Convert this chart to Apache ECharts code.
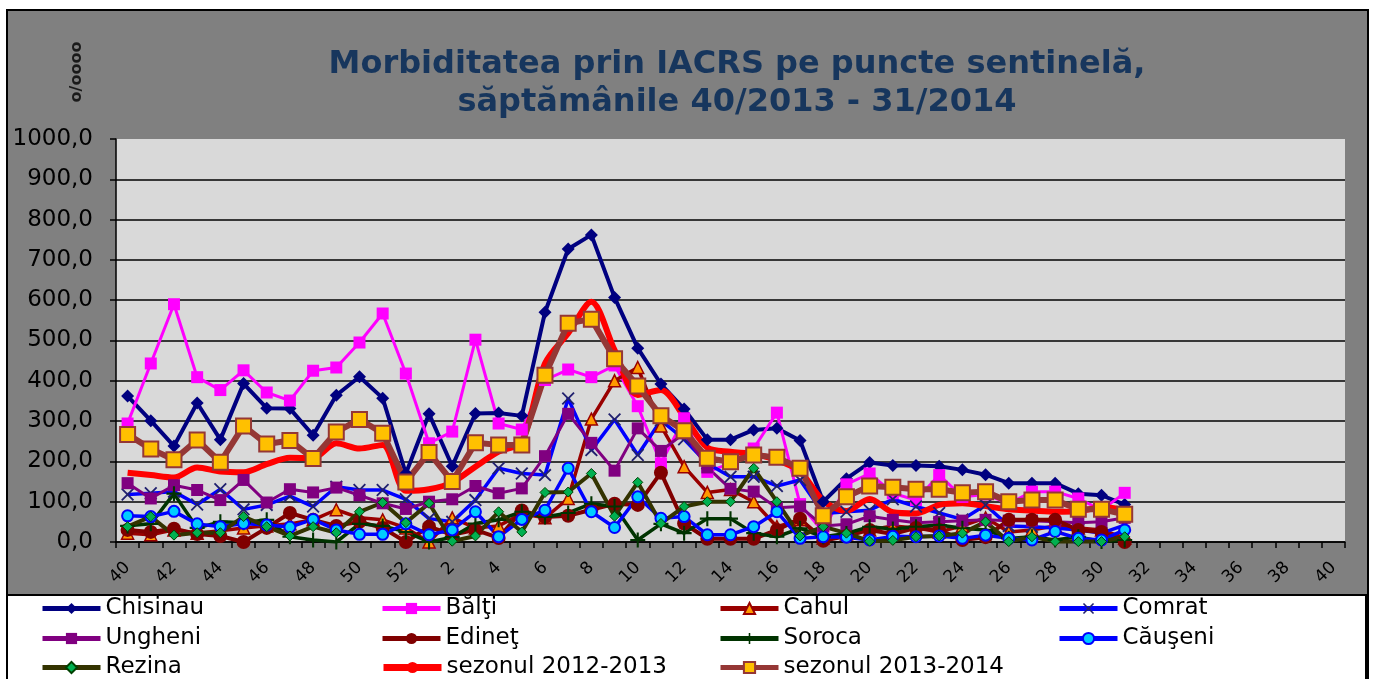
<!DOCTYPE html>
<html><head><meta charset="utf-8">
<script src="https://cdn.jsdelivr.net/npm/echarts@6/dist/echarts.min.js"></script>
<style>html,body{margin:0;padding:0;background:#fff}#c{width:1379px;height:679px}</style>
</head><body><div id="c"></div>
<script>
const weeks = ['40','41','42','43','44','45','46','47','48','49','50','51','52',
  '1','2','3','4','5','6','7','8','9','10','11','12','13','14','15','16','17','18','19','20',
  '21','22','23','24','25','26','27','28','29','30','31','32','33','34','35','36','37','38','39','40'];
const yTicks = [0,100,200,300,400,500,600,700,800,900,1000];

const chisinau = [362,301,238,345,254,393,332,331,265,364,410,357,170,318,188,319,320,313,570,727,762,607,481,392,330,254,254,278,282,252,100,157,197,190,190,188,179,167,146,146,146,120,116,93];
const balti    = [294,443,590,409,377,426,371,351,425,433,495,567,418,245,274,502,294,279,402,428,409,438,337,195,307,174,195,232,321,94,25,143,170,121,104,166,112,118,95,125,125,108,79,122];
const cahul    = [22,18,30,22,28,35,40,45,55,80,60,55,35,0,60,35,40,70,60,108,305,400,433,288,187,123,130,100,38,55,10,20,30,40,35,25,40,60,25,30,40,35,30,10];
const comrat   = [118,121,125,93,131,81,92,114,88,137,129,129,106,58,50,104,183,170,166,356,228,304,216,302,255,195,162,162,139,154,71,75,79,106,88,72,56,92,40,38,35,30,22,42];
const ungheni  = [146,108,141,129,104,154,98,131,123,135,116,96,82,100,106,139,121,133,213,318,246,177,282,226,270,185,132,125,85,88,40,44,64,55,48,50,53,55,53,53,50,48,50,60];
const edinet   = [30,25,33,20,15,0,35,72,55,40,50,35,0,38,18,30,10,78,62,65,80,95,92,172,46,8,8,8,30,58,3,15,30,20,35,30,5,12,55,55,55,30,25,0];
const soroca   = [40,45,120,35,50,48,55,13,5,0,45,40,25,0,12,46,55,75,62,72,95,88,5,45,22,58,58,22,13,34,13,21,38,32,38,42,34,30,9,13,5,13,1,5];
const causeni  = [65,63,76,45,38,46,42,37,56,30,19,19,45,18,30,75,13,56,79,183,75,36,112,59,63,18,18,38,75,9,13,12,5,14,13,15,9,17,9,5,26,9,5,30];
const rezina   = [38,63,17,23,23,63,38,15,38,23,75,98,48,96,2,15,75,25,123,124,170,64,148,46,88,100,100,183,100,15,38,22,2,4,13,15,22,50,1,13,1,1,1,13];
const sez1213  = [172,166,160,185,175,173,193,209,208,245,232,241,127,131,148,187,224,249,443,518,596,476,365,377,311,234,224,218,203,175,102,77,107,74,71,92,96,89,81,78,75,76,86,80];
const sez1314  = [267,231,204,253,198,288,243,252,207,273,304,270,149,222,150,246,241,241,414,543,553,455,387,313,276,208,199,216,210,183,65,112,139,136,131,131,122,125,100,104,104,81,81,69];

const FONT = 'DejaVu Sans';
const X_PATH = 'path://M1,0 L5,4 L9,0 L10,1 L6,5 L10,9 L9,10 L5,6 L1,10 L0,9 L4,5 L0,1 Z';
const PLUS_PATH = 'path://M4.3,0 L5.7,0 L5.7,4.3 L10,4.3 L10,5.7 L5.7,5.7 L5.7,10 L4.3,10 L4.3,5.7 L0,5.7 L0,4.3 L4.3,4.3 Z';

function line(name, data, color, width, symbol, size, fill, border, bw, extra) {
  return Object.assign({
    name: name, type: 'line', data: data,
    symbol: symbol, symbolSize: size, showSymbol: symbol !== 'none',
    lineStyle: {color: color, width: width},
    itemStyle: {color: fill, borderColor: border, borderWidth: bw},
    emphasis: {disabled: true},
    animation: false
  }, extra || {});
}

const series = [
  line('Chisinau', chisinau, '#000080', 4, 'diamond', 13, '#000080', '#000080', 0),
  line('Bălţi', balti, '#FF00FF', 3, 'rect', 12, '#FF00FF', '#FF00FF', 0),
  line('Cahul', cahul, '#990000', 3.5, 'triangle', 12, '#FF9900', '#990000', 1.5),
  line('Comrat', comrat, '#0000FF', 3.5, X_PATH, 13, '#20206E', '#20206E', 0),
  line('Ungheni', ungheni, '#800080', 3, 'rect', 12, '#800080', '#800080', 0),
  line('Edineţ', edinet, '#800000', 4, 'circle', 14, '#800000', '#800000', 0),
  line('Soroca', soroca, '#003300', 3.5, PLUS_PATH, 15, '#003300', '#003300', 0),
  line('Căuşeni', causeni, '#0000FF', 3.5, 'circle', 11, '#00CCFF', '#0000FF', 2),
  line('Rezina', rezina, '#333300', 4, 'diamond', 10, '#00B050', '#004000', 1),
  line('sezonul 2012-2013', sez1213, '#FF0000', 6, 'none', 0, '#FF0000', '#FF0000', 0, {smooth: 0.3}),
  line('sezonul 2013-2014', sez1314, '#953735', 6, 'rect', 15, '#FFC000', '#953735', 2)
];

const legendCols = [40, 380, 718, 1057];
const legendRows = [597, 627, 656];
const legends = series.map(function (s, i) {
  return {
    data: [s.name], left: legendCols[i % 4], top: legendRows[Math.floor(i / 4)],
    padding: 0, itemWidth: 58, itemHeight: 14, itemGap: 0,
    lineStyle: {width: i === 9 ? 7 : 5},
    textStyle: {fontFamily: FONT, fontSize: 23, color: '#000'},
    selectedMode: false
  };
});

const chart = echarts.init(document.getElementById('c'));
chart.setOption({
  backgroundColor: '#FFFFFF',
  animation: false,
  title: {
    text: 'Morbiditatea prin IACRS pe puncte sentinelă,\nsăptămânile 40/2013 - 31/2014',
    left: 737, top: 46, padding: 0, textAlign: 'center',
    textStyle: {fontFamily: FONT, fontWeight: 'bold', fontSize: 32, lineHeight: 38, color: '#17365D'}
  },
  graphic: [
    {type: 'rect', z: -20, shape: {x: 7, y: 10, width: 1361, height: 680}, style: {fill: '#808080', stroke: '#000', lineWidth: 2}},
    {type: 'rect', z: -10, shape: {x: 7, y: 595, width: 1359, height: 95}, style: {fill: '#FFFFFF', stroke: '#000', lineWidth: 2}},
    {type: 'text', z: 5, x: 77, y: 72, rotation: Math.PI / 2,
     style: {text: 'o/oooo', font: 'bold 16px "DejaVu Sans"', fill: '#1a1a1a', align: 'center', verticalAlign: 'middle'}}
  ],
  legend: legends,
  grid: {left: 116, top: 139, width: 1229, height: 403, show: true, backgroundColor: '#D9D9D9', borderWidth: 0},
  xAxis: {
    type: 'category', data: weeks, boundaryGap: true,
    axisLine: {lineStyle: {color: '#000', width: 1.5}},
    axisTick: {show: true, interval: 0, length: 6, lineStyle: {color: '#000', width: 1.5}},
    axisLabel: {interval: 1, rotate: 45, margin: 23, fontFamily: FONT, fontSize: 17, color: '#000'},
    splitLine: {show: false}
  },
  yAxis: {
    type: 'value', min: yTicks[0], max: yTicks[yTicks.length - 1], interval: 100,
    axisLine: {show: true, lineStyle: {color: '#000', width: 1.5}},
    axisTick: {show: true, length: 6, lineStyle: {color: '#000', width: 1.5}},
    axisLabel: {margin: 23, fontFamily: FONT, fontSize: 23, color: '#000',
      formatter: function (v) { return v.toFixed(1).replace('.', ','); }},
    splitLine: {show: true, showMaxLine: false, lineStyle: {color: '#000', width: 1.5}}
  },
  series: series
});
</script></body></html>
